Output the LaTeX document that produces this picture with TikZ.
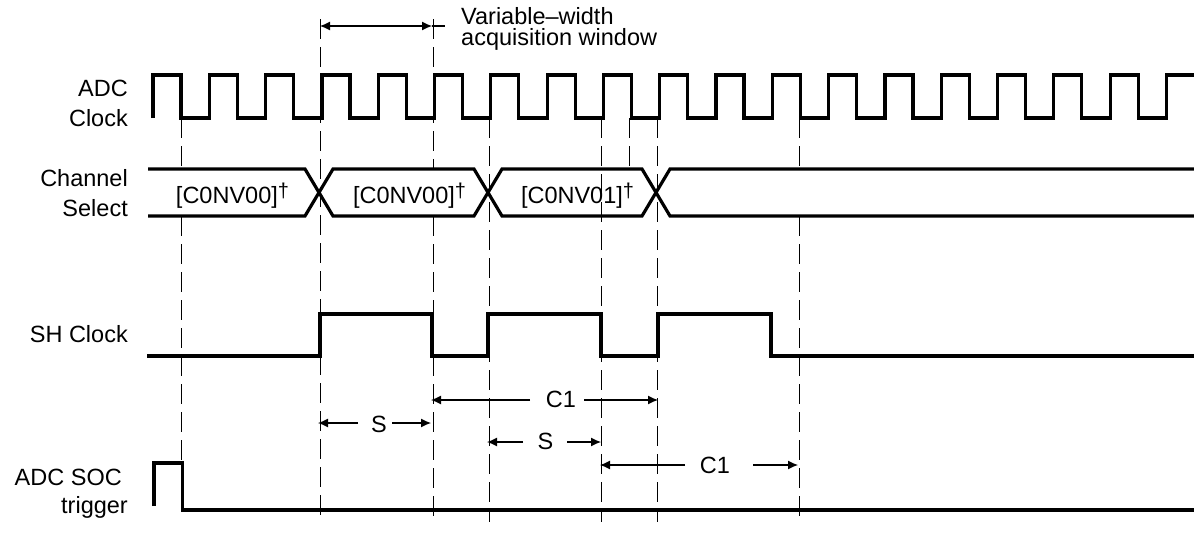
\documentclass[tikz,border=0pt]{standalone}
\usepackage{fontspec}
\setmainfont{Liberation Sans}
\usetikzlibrary{arrows.meta}
\newcommand{\mydagmark}{\raisebox{6pt}{\fontsize{20}{20}\selectfont †}}
\begin{document}
\begin{tikzpicture}[x=1pt,y=-1pt,
  sig/.style={line width=3.2pt},
  guide/.style={line width=1pt, dash pattern=on 20pt off 8pt},
  dim/.style={line width=1.1pt},
  arr/.style={line width=1.1pt, -{Latex[length=10pt,width=9pt]}},
  lbl/.style={anchor=base east, inner sep=0pt, font=\fontsize{23.5}{28}\selectfont},
  txt/.style={inner sep=0pt, font=\fontsize{23.5}{28}\selectfont}]
\useasboundingbox (0,0) rectangle (1194,542);

% signal labels
\node[lbl] (adc1) at (128,96.7) {ADC};
\node[lbl] (adc2) at (128,126.7) {Clock};
\node[lbl] (ch1) at (128,186.7) {Channel};
\node[lbl] (ch2) at (128,216.7) {Select};
\node[lbl] (sh) at (128,342.7) {SH Clock};
\node[lbl] (soc1) at (122,485) {ADC SOC};
\node[lbl] (soc2) at (128,513) {trigger};

% dashed guides
\draw[guide] (181,118) -- (181,169);
\draw[guide] (181,216) -- (181,463);
\draw[guide] (320,19) -- (320,522);
\draw[guide] (433,19) -- (433,169);
\draw[guide] (433,216) -- (433,522);
\draw[guide] (489,118) -- (489,522);
\draw[guide] (601,118) -- (601,522);
\draw[guide] (629,118) -- (629,169);
\draw[guide] (657,118) -- (657,522);
\draw[guide] (799,118) -- (799,169);
\draw[guide] (799,216) -- (799,522);

% ADC clock
\draw[sig] (153,118) \foreach \k in {1,...,18} { -- ++(0,-43) -- ++(28,0) -- ++(0,43) -- ++(28.3,0) } -- ++(0,-43) -- (1194,75);

% channel select bus
\draw[sig] (148,169) -- (305,169) -- (333,216) -- (474,216) -- (502,169) -- (642,169) -- (670,216) -- (1194,216);
\draw[sig] (148,216) -- (305,216) -- (333,169) -- (474,169) -- (502,216) -- (642,216) -- (670,169) -- (1194,169);
\node[txt, anchor=base] (cs1) at (232.5,203) {[C0NV00]\mydagmark};
\node[txt, anchor=base] (cs2) at (409.5,203) {[C0NV00]\mydagmark};
\node[txt, anchor=base] (cs3) at (577.5,203) {[C0NV01]\mydagmark};

% SH clock
\draw[sig] (147,356) -- (320,356) -- (320,314) -- (432,314) -- (432,356) -- (488,356) -- (488,314) -- (601,314) -- (601,356) -- (658,356) -- (658,314) -- (771,314) -- (771,356) -- (1194,356);

% ADC SOC trigger
\draw[sig] (154,506) -- (154,463) -- (182.5,463) -- (182.5,510) -- (1194,510);

% variable-width acquisition window
\coordinate (vwL) at (320,26);
\coordinate (vwR) at (432,26);
\coordinate (vwE) at (445,26);
\draw[dim, {Latex[length=10pt,width=9pt]}-{Latex[length=10pt,width=9pt]}] (vwL) -- (vwR);
\draw[dim] (vwR) -- (vwE);
\node[txt, anchor=base west] (vw1) at (461,24.5) {Variable--width};
\node[txt, anchor=base west] (vw2) at (461,45.5) {acquisition window};

% C1 (first)
\coordinate (c1aL) at (431,400);
\coordinate (c1aR) at (658,400);
\coordinate (c1aG1) at (530,400);
\coordinate (c1aG2) at (584,400);
\node[txt] (c1a) at (561,399) {C1};
\draw[arr] (c1aG1) -- (c1aL);
\draw[arr] (c1aG2) -- (c1aR);

% S (first)
\coordinate (s1L) at (318,423);
\coordinate (s1R) at (431,423);
\coordinate (s1G1) at (358,423);
\coordinate (s1G2) at (392,423);
\node[txt] (s1) at (379,424) {S};
\draw[arr] (s1G1) -- (s1L);
\draw[arr] (s1G2) -- (s1R);

% S (second)
\coordinate (s2L) at (487,442);
\coordinate (s2R) at (601,442);
\coordinate (s2G1) at (523,442);
\coordinate (s2G2) at (567,442);
\node[txt] (s2) at (545.5,441.5) {S};
\draw[arr] (s2G1) -- (s2L);
\draw[arr] (s2G2) -- (s2R);

% C1 (second)
\coordinate (c1bL) at (600,465);
\coordinate (c1bR) at (798,465);
\coordinate (c1bG1) at (685,465);
\coordinate (c1bG2) at (753,465);
\node[txt] (c1b) at (715,465) {C1};
\draw[arr] (c1bG1) -- (c1bL);
\draw[arr] (c1bG2) -- (c1bR);
\end{tikzpicture}
\end{document}
